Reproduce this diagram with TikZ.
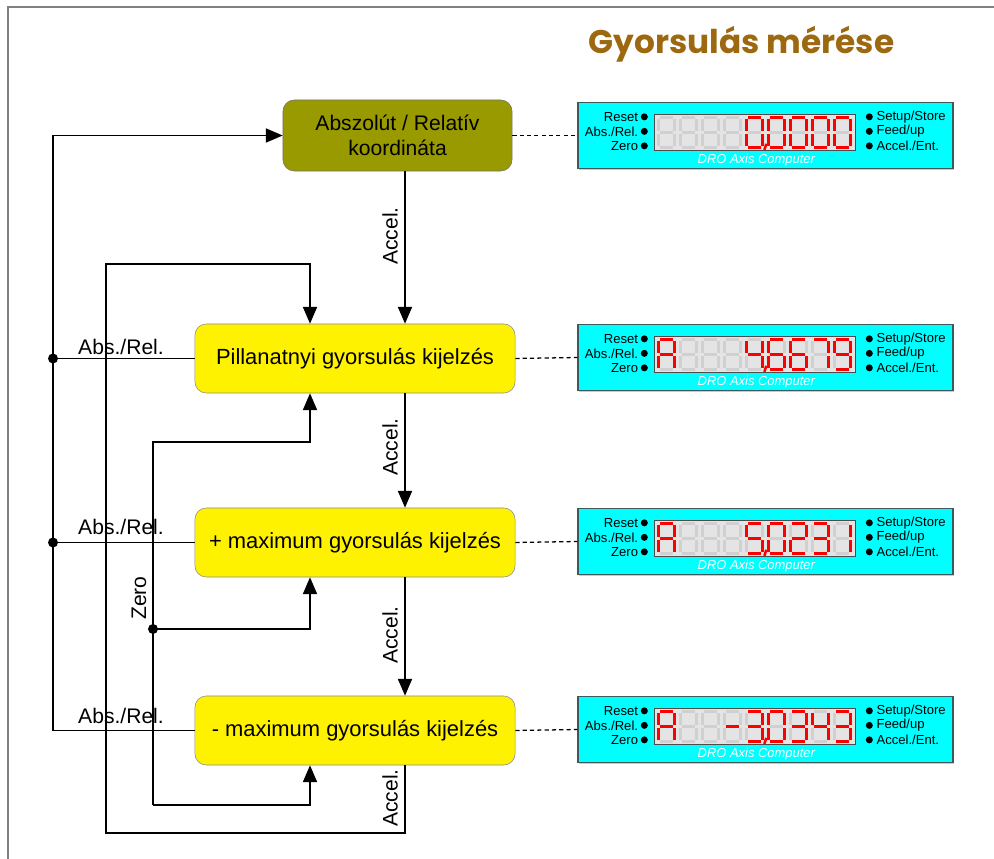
\documentclass[tikz,border=0pt]{standalone}
\usepackage{fontspec}
\setmainfont{Liberation Sans}
\newfontfamily\titlefont{Poppins}
\usetikzlibrary{arrows.meta,shadows}

\definecolor{olivebox}{RGB}{153,153,0}
\definecolor{titlebrown}{RGB}{156,104,16}
\definecolor{drocyan}{RGB}{0,255,255}
\definecolor{droedge}{RGB}{60,90,90}
\definecolor{lcdbg}{RGB}{228,228,228}
\definecolor{lcdoff}{RGB}{208,208,208}
\definecolor{lcdred}{RGB}{255,0,0}

% one segment of a seven-segment digit (#1 style, #2 segment letter)
\newcommand\drawseg[2]{%
  \if a#2\draw[#1] (1.5,0) -- (14.5,0);\fi
  \if b#2\draw[#1] (16,1.5) -- (16,13.5);\fi
  \if c#2\draw[#1] (16,16.5) -- (16,28.5);\fi
  \if d#2\draw[#1] (1.5,30) -- (14.5,30);\fi
  \if e#2\draw[#1] (0,16.5) -- (0,28.5);\fi
  \if f#2\draw[#1] (0,1.5) -- (0,13.5);\fi
  \if g#2\draw[#1] (1.5,15) -- (14.5,15);\fi}

% face of a DRO panel (#1 node name, #2 list of nine digits)
\newcommand\droface[2]{%
  \begin{scope}[shift={(#1.north west)}]
    \draw[lcd] (77,13) rectangle (278,49);
    \foreach \dg [count=\i] in {#2} {
      \begin{scope}[shift={({81+22*(\i-1)},16)}]
        \foreach \s in {a,b,c,d,e,f,g} {\drawseg{segoff}{\s}}
        \foreach \s in \dg {\drawseg{segon}{\s}}
      \end{scope}}
    \draw[segon, line width=1.8pt] (189,42) -- (187,48);
    \foreach \lab [count=\k] in {Reset, Abs./Rel., Zero} {
      \node[dlabel, anchor=east] at (61,{15+14.5*(\k-1)}) {\lab};
      \fill (67,{15+14.5*(\k-1)}) circle (3.5);}
    \foreach \lab [count=\k] in {Setup/Store, Feed/up, Accel./Ent.} {
      \fill (292,{15+14.5*(\k-1)}) circle (3.5);
      \node[dlabel, anchor=west] at (299,{15+14.5*(\k-1)}) {\lab};}
    \node[dlabel, text=white, font=\fontsize{9.2}{11}\selectfont\itshape] at (179,58) {DRO Axis Computer};
  \end{scope}}

\begin{document}
\begin{tikzpicture}[x=0.025cm, y=-0.025cm, line cap=butt,
  boxfont/.style={font=\fontsize{15}{18}\selectfont},
  absbox/.style={draw=black!55, fill=olivebox, rounded corners=8pt, boxfont,
    minimum width=5.725cm, minimum height=1.775cm, align=center, inner sep=0pt},
  modebox/.style={draw=black!45, fill=yellow, rounded corners=8pt,
    font=\fontsize{15.6}{18}\selectfont,
    minimum width=8cm, minimum height=1.725cm, inner sep=0pt},
  dro/.style={draw=droedge, fill=drocyan, line width=0.9pt, inner sep=0pt,
    minimum width=9.375cm, minimum height=1.65cm,
    drop shadow={shadow xshift=1pt, shadow yshift=-1pt, fill=black!35, opacity=0.6}},
  lcd/.style={draw=black!70, fill=lcdbg, line width=0.6pt},
  segoff/.style={draw=lcdoff, line width=2.3pt},
  segon/.style={draw=lcdred, line width=2.3pt},
  dlabel/.style={font=\fontsize{9.3}{11}\selectfont, inner sep=0pt},
  buslabel/.style={boxfont, inner sep=1pt},
  link/.style={draw, line width=1.2pt},
  flow/.style={link, -{Triangle[length=12pt, width=10pt]}},
  dashline/.style={draw, line width=0.9pt, dash pattern=on 3pt off 2.2pt},
  junction/.style={fill, circle, inner sep=0pt, minimum size=0.25cm}]
  \useasboundingbox (0,0) rectangle (994,859);
  % ---------- frame ----------
  \draw[black!50, line width=1.4pt] (8,859) -- (8,7) -- (994,7);
  % ---------- title ----------
  \node[anchor=base, text=titlebrown, font=\titlefont\bfseries\fontsize{23.3}{27}\selectfont] (title) at (741.5,54) {Gyorsulás mérése};
  % ---------- mode boxes ----------
  \node[absbox] (absrel) at (397.5,135.5) {Abszolút / Relatív\\koordináta};
  \node[modebox] (pillan) at (355,358.5) {Pillanatnyi gyorsulás kijelzés};
  \node[modebox] (maxplus) at (355,542.5) {+ maximum gyorsulás kijelzés};
  \node[modebox] (maxminus) at (355,730.5) {- maximum gyorsulás kijelzés};
  % ---------- DRO panels ----------
  \node[dro] (dro1) at (765.5,135.5) {};
  \node[dro] (dro2) at (765.5,357.5) {};
  \node[dro] (dro3) at (765.5,541.5) {};
  \node[dro] (dro4) at (765.5,729.5) {};
  \droface{dro1}{{x},{x},{x},{x},{a,b,c,d,e,f},{a,b,c,d,e,f},{a,b,c,d,e,f},{a,b,c,d,e,f},{a,b,c,d,e,f}}
  \droface{dro2}{{a,b,c,e,f,g},{x},{x},{x},{b,c,f,g},{a,c,d,e,f,g},{a,c,d,e,f,g},{a,b,c},{a,b,c,d,f,g}}
  \droface{dro3}{{a,b,c,e,f,g},{x},{x},{x},{a,c,d,f,g},{a,b,c,d,e,f},{a,b,d,e,g},{a,b,c,d,g},{b,c}}
  \droface{dro4}{{a,b,c,e,f,g},{x},{x},{g},{a,b,c,d,g},{a,b,c,d,e,f},{a,b,c,d,g},{b,c,f,g},{a,b,c,d,g}}
  % ---------- box -> panel ----------
  \draw[dashline] (absrel.east) -- (dro1.west);
  \draw[dashline] (pillan.east) -- (dro2.west);
  \draw[dashline] (maxplus.east) -- (dro3.west);
  \draw[dashline] (maxminus.east) -- (dro4.west);
  % ---------- bus positions ----------
  \coordinate (accx) at (405,0);
  \coordinate (absx) at (53,0);
  \coordinate (feedx) at (310,0);
  \coordinate (loopbot) at (106,833);
  \coordinate (looptop) at (106,264);
  \coordinate (zerotop) at (153,442);
  \coordinate (zerobot) at (153,805);
  \coordinate (zerojoin) at (153,629);
  % ---------- Accel. chain ----------
  \draw[flow] (absrel.south -| accx) -- (pillan.north -| accx);
  \draw[flow] (pillan.south -| accx) -- (maxplus.north -| accx);
  \draw[flow] (maxplus.south -| accx) -- (maxminus.north -| accx);
  \draw[flow] (maxminus.south -| accx) |- (loopbot) -- (looptop) -| (pillan.north -| feedx);
  \node[buslabel, rotate=90] (acc1) at (390,236) {Accel.};
  \node[buslabel, rotate=90] (acc2) at (390,447) {Accel.};
  \node[buslabel, rotate=90] (acc3) at (390,635) {Accel.};
  \node[buslabel, rotate=90] (acc4) at (390,798) {Accel.};
  % ---------- Abs./Rel. bus ----------
  \draw[flow] (maxminus.west) -- (maxminus.west -| absx) |- (absrel.west);
  \draw[link] (pillan.west -| absx) -- (pillan.west);
  \draw[link] (maxplus.west -| absx) -- (maxplus.west);
  \node[junction] (absdot1) at (pillan.west -| absx) {};
  \node[junction] (absdot2) at (maxplus.west -| absx) {};
  \node[buslabel] (abslab1) at (121,347) {Abs./Rel.};
  \node[buslabel] (abslab2) at (121,527) {Abs./Rel.};
  \node[buslabel] (abslab3) at (121,716) {Abs./Rel.};
  % ---------- Zero bus ----------
  \draw[flow] (zerobot) -- (zerotop) -| (pillan.south -| feedx);
  \draw[flow] (zerojoin) -| (maxplus.south -| feedx);
  \draw[flow] (zerobot) -| (maxminus.south -| feedx);
  \node[junction] (zerodot) at (zerojoin) {};
  \node[buslabel, rotate=90] (zerolab) at (139,598) {Zero};
\end{tikzpicture}
\end{document}
